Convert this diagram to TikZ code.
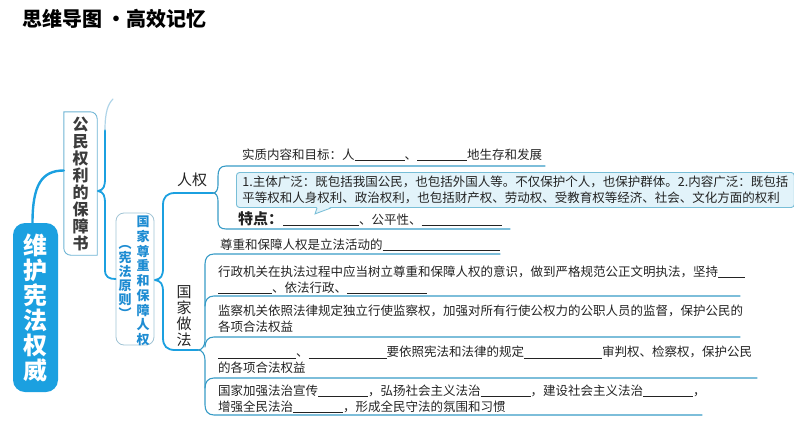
\documentclass[tikz,border=0pt]{standalone}
\usepackage{fontspec}
\setmainfont{Noto Sans CJK SC}
\usetikzlibrary{calc}

\definecolor{mmblue}{RGB}{27,160,224}
\definecolor{twigteal}{RGB}{55,155,198}
\definecolor{fadeblue}{RGB}{175,212,232}
\definecolor{boxline}{RGB}{110,180,212}
\definecolor{frametwo}{RGB}{160,195,212}
\definecolor{bubblefill}{RGB}{226,243,250}
\definecolor{bubbleline}{RGB}{120,190,215}
\definecolor{inkgray}{RGB}{35,35,35}
\definecolor{boxtext}{RGB}{60,60,60}
\definecolor{ruleblue}{RGB}{30,140,210}

\tikzset{
  trunk/.style={draw=mmblue, line width=1.8pt, line cap=round},
  twig/.style={draw=twigteal, line width=1.1pt, line cap=round},
  rowtext/.style={anchor=west, inner sep=0pt, align=left, text=inkgray, font=\fontsize{12.5}{16}\selectfont},
  vstack/.style={inner sep=0pt, align=center},
}
\newcommand{\blank}[1]{\rule[-1.5pt]{#1pt}{0.7pt}}

\begin{document}
\begin{tikzpicture}[x=1pt, y=-1pt]
\useasboundingbox (0,0) rectangle (794,447);
\node[anchor=west, inner sep=0pt, text=black, font=\bfseries\fontsize{20}{20}\selectfont] (title) at (22,19) {思维导图\hspace{4pt}·高效记忆};
\node[vstack, fill=mmblue, rounded corners=12pt, minimum width=45pt, minimum height=169pt, text=white, font=\bfseries\fontsize{24}{25}\selectfont] (weihu) at (35.5,307.5) {维\\护\\宪\\法\\权\\威};
\node[vstack, minimum width=33pt, minimum height=143pt, text=boxtext, font=\bfseries\fontsize{16}{17}\selectfont] (baozhang) at (80.5,183.5) {公\\民\\权\\利\\的\\保\\障\\书};
\draw[boxline, line width=0.9pt] (baozhang.north west) -- ([xshift=-7pt]baozhang.north east) arc[start angle=90, end angle=0, radius=7pt] -- (baozhang.south east) -- ([xshift=7pt]baozhang.south west) arc[start angle=270, end angle=180, radius=7pt] -- cycle;
\node[draw=frametwo, line width=0.8pt, rounded corners=8pt, minimum width=38pt, minimum height=132pt] (zunzhong) at (135,279) {};
\node[vstack, text=ruleblue, font=\bfseries\fontsize{13}{14.7}\selectfont] (zunzhongtext) at (143,281) {国\\家\\尊\\重\\和\\保\\障\\人\\权};
\node[vstack, text=ruleblue, font=\bfseries\fontsize{13}{14}\selectfont] (yuanze) at (125,282) {︵\\宪\\法\\原\\则\\︶};
\node[inner sep=0pt, text=inkgray, font=\fontsize{15}{15}\selectfont] (renquan) at (192,180) {人权};
\node[vstack, text=inkgray, font=\fontsize{15}{16}\selectfont] (zuofa) at (184,316) {国\\家\\做\\法};

\coordinate (t1) at (98,191);
\coordinate (t2) at (155,280);
\coordinate (t3) at (213,193);
\coordinate (t4) at (198,350);

\draw[trunk, line width=2.4pt] ([xshift=-3pt]weihu.north) .. controls +(0,-38) and +(-22,0) .. ([yshift=13pt]baozhang.west);
\draw[trunk] (t1) .. controls (104,190) and (105,186) .. (105,178) -- (105,130);
\draw[draw=fadeblue, line width=1.2pt, line cap=round] (105,130) .. controls (105,112) and (108,104) .. (113,99);
\draw[trunk] (t1) .. controls (104,192) and (105,196) .. (105,204) -- (105,270) .. controls (105,277) and (109,279) .. (zunzhong.west);
\draw[trunk] (t2) .. controls (161,279) and (163,276) .. (163,268) -- (163,205) .. controls (163,197) and (167,193) .. (175,193) -- (t3);
\draw[trunk] (t2) .. controls (161,281) and (163,284) .. (163,292) -- (163,338) .. controls (163,346) and (167,350) .. (175,350) -- (t4);

\draw[twig] (545,166) -- (226,166) .. controls (220,166) and (218,170) .. (218,176) -- (218,185) .. controls (218,190) and (216,193) .. (t3) .. controls (216,193) and (218,196) .. (218,201) -- (218,221) .. controls (218,226) and (220,229) .. (226,229) -- (510,229);
\draw[twig] (500,254) -- (214,254) .. controls (208,254) and (205,258) .. (205,264) -- (205,340) .. controls (205,346) and (202,350) .. (t4) .. controls (202,350) and (205,354) .. (205,360) -- (205,405) .. controls (205,411) and (208,415) .. (214,415) -- (702,415);
\draw[twig] (740,296) -- (214,296) .. controls (208,296) and (205,300) .. (205,306);
\draw[twig] (740,337) -- (214,337) .. controls (208,337) and (205,341) .. (205,347);
\draw[twig] (757,378) -- (214,378) .. controls (208,378) and (205,382) .. (205,388);

\node[rowtext] (goal) at (242,155) {实质内容和目标：人\blank{50}、\blank{50}地生存和发展};
\node[rowtext, draw=bubbleline, fill=bubblefill, line width=0.9pt, rounded corners=3pt, inner xsep=6pt, inner ysep=3.5pt] (bubble) at (236,190) {1.主体广泛：既包括我国公民，也包括外国人等。不仅保护个人，也保护群体。2.内容广泛：既包括\\平等权和人身权利、政治权利，也包括财产权、劳动权、受教育权等经济、社会、文化方面的权利};
\fill[bubblefill] ($(bubble.south west)+(81,-1)$) -- ($(bubble.south west)+(79,6)$) -- ($(bubble.south west)+(95,-1)$) -- cycle;
\draw[bubbleline, line width=0.9pt] ($(bubble.south west)+(81,0)$) -- ($(bubble.south west)+(79,6)$) -- ($(bubble.south west)+(95,0)$);
\node[rowtext] (trait) at (238,219) {{\bfseries\fontsize{15}{16}\selectfont 特点：}\blank{76}、公平性、\blank{80}};

\node[rowtext] (row1) at (220,245) {尊重和保障人权是立法活动的\blank{117}};
\node[rowtext] (row2) at (218,280) {行政机关在执法过程中应当树立尊重和保障人权的意识，做到严格规范公正文明执法，坚持\blank{27}\\\blank{54}、依法行政、\blank{80}};
\node[rowtext] (row3) at (218,319) {监察机关依照法律规定独立行使监察权，加强对所有行使公权力的公职人员的监督，保护公民的\\各项合法权益};
\node[rowtext] (row4) at (218,360) {\blank{78}、\blank{78}要依照宪法和法律的规定\blank{78}审判权、检察权，保护公民\\的各项合法权益};
\node[rowtext] (row5) at (218,398.5) {国家加强法治宣传\blank{50}，弘扬社会主义法治\blank{50}，建设社会主义法治\blank{50}，\\增强全民法治\blank{50}，形成全民守法的氛围和习惯};
\end{tikzpicture}
\end{document}
